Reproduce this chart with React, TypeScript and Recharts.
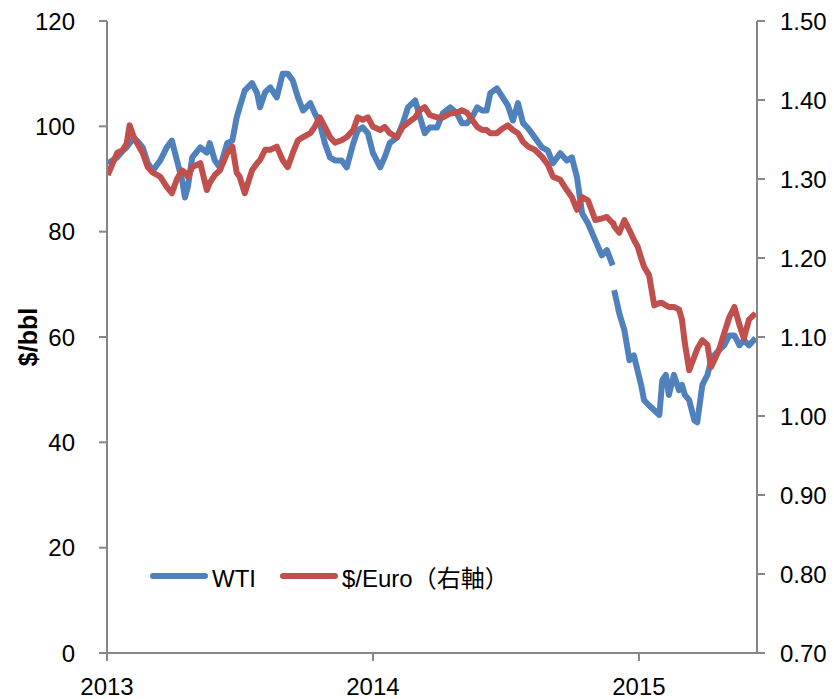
import { LineChart, Line, XAxis, YAxis, Legend } from 'recharts';

// sample dates (roughly weekly)
const dates = [
  '2013-01-02', '2013-01-08', '2013-01-15', '2013-01-23', '2013-01-28', '2013-02-01', '2013-02-06', '2013-02-11',
  '2013-02-19', '2013-02-26', '2013-03-05', '2013-03-15', '2013-03-24', '2013-03-31', '2013-04-07', '2013-04-14',
  '2013-04-18', '2013-04-22', '2013-04-28', '2013-05-09', '2013-05-18', '2013-05-22', '2013-05-29', '2013-06-05',
  '2013-06-15', '2013-06-22', '2013-06-28', '2013-07-02', '2013-07-09', '2013-07-19', '2013-07-26', '2013-07-30',
  '2013-08-06', '2013-08-13', '2013-08-22', '2013-08-30', '2013-09-06', '2013-09-13', '2013-09-20', '2013-09-27',
  '2013-10-07', '2013-10-13', '2013-10-20', '2013-10-27', '2013-11-03', '2013-11-10', '2013-11-19', '2013-11-26',
  '2013-12-05', '2013-12-11', '2013-12-18', '2013-12-25', '2014-01-01', '2014-01-11', '2014-01-17', '2014-01-24',
  '2014-02-03', '2014-02-11', '2014-02-18', '2014-02-28', '2014-03-06', '2014-03-13', '2014-03-20', '2014-03-30',
  '2014-04-07', '2014-04-17', '2014-04-26', '2014-05-03', '2014-05-10', '2014-05-17', '2014-05-24', '2014-05-31',
  '2014-06-06', '2014-06-11', '2014-06-20', '2014-06-28', '2014-07-05', '2014-07-12', '2014-07-19', '2014-07-26',
  '2014-08-02', '2014-08-11', '2014-08-21', '2014-08-29', '2014-09-05', '2014-09-15', '2014-09-24', '2014-10-01',
  '2014-10-08', '2014-10-15', '2014-10-23', '2014-11-02', '2014-11-11', '2014-11-18', '2014-11-26', '2014-11-27',
  '2014-11-28', '2014-12-05', '2014-12-12', '2014-12-19', '2014-12-25', '2014-12-30', '2015-01-04', '2015-01-08',
  '2015-01-15', '2015-01-22', '2015-01-29', '2015-02-02', '2015-02-07', '2015-02-11', '2015-02-18', '2015-02-25',
  '2015-03-01', '2015-03-05', '2015-03-11', '2015-03-18', '2015-03-22', '2015-03-29', '2015-04-05', '2015-04-10',
  '2015-04-14', '2015-04-21', '2015-04-28', '2015-05-05', '2015-05-12', '2015-05-19', '2015-05-25', '2015-06-01',
  '2015-06-10',
];

// WTI, $/bbl (null = missing day -> gap in line)
const wti = [
  93.0, 93.5, 94.1, 95.4, 96.0, 96.8, 97.5, 97.3,
  96.0, 93.0, 91.6, 93.5, 96.0, 97.3, 93.5, 89.8,
  86.5, 88.5, 94.1, 96.0, 95.0, 96.8, 93.5, 92.2,
  96.8, 97.3, 101.7, 103.6, 106.8, 108.2, 106.3, 103.6,
  106.5, 107.4, 105.5, 110.0, 110.0, 108.7, 105.5, 103.0,
  104.4, 102.5, 100.6, 96.8, 94.1, 93.5, 93.5, 92.2,
  96.8, 99.2, 99.8, 98.7, 94.9, 92.2, 94.1, 96.8,
  97.9, 100.6, 103.6, 104.9, 102.0, 98.7, 99.8, 99.8,
  102.5, 103.6, 102.5, 100.6, 100.6, 101.7, 103.6, 103.0,
  103.0, 106.3, 107.2, 105.5, 104.0, 101.1, 104.4, 100.6,
  99.6, 97.9, 96.0, 95.4, 93.0, 94.9, 93.5, 94.1,
  90.3, 83.5, 81.6, 78.4, 75.5, 76.5, 73.6, null,
  68.9, 64.5, 61.3, 55.6, 56.5, 53.7, 50.9, 48.0,
  47.0, 46.1, 45.2, 51.8, 52.8, 49.0, 52.8, 49.9,
  50.9, 49.0, 48.0, 44.2, 43.8, 50.9, 52.8, 55.6,
  56.5, 57.5, 58.4, 60.3, 60.3, 58.4, 59.4, 58.4,
  59.8,
];

// $/Euro (right axis)
const euro = [
  1.305, 1.318, 1.333, 1.337, 1.345, 1.368, 1.355, 1.346,
  1.333, 1.315, 1.308, 1.303, 1.290, 1.282, 1.300, 1.311,
  1.308, 1.303, 1.315, 1.320, 1.286, 1.295, 1.305, 1.311,
  1.333, 1.341, 1.308, 1.303, 1.282, 1.311, 1.320, 1.324,
  1.337, 1.337, 1.341, 1.324, 1.315, 1.333, 1.349, 1.353,
  1.358, 1.366, 1.378, 1.366, 1.353, 1.346, 1.349, 1.353,
  1.362, 1.378, 1.375, 1.378, 1.366, 1.362, 1.366, 1.358,
  1.353, 1.366, 1.371, 1.378, 1.387, 1.391, 1.381, 1.378,
  1.378, 1.383, 1.384, 1.387, 1.384, 1.375, 1.366, 1.362,
  1.362, 1.358, 1.358, 1.364, 1.368, 1.362, 1.358, 1.347,
  1.341, 1.337, 1.328, 1.318, 1.303, 1.299, 1.286, 1.277,
  1.261, 1.277, 1.273, 1.248, 1.250, 1.252, 1.244, 1.244,
  1.240, 1.232, 1.248, 1.235, 1.223, 1.215, 1.200, 1.189,
  1.178, 1.140, 1.143, 1.143, 1.140, 1.138, 1.138, 1.135,
  1.122, 1.092, 1.058, 1.075, 1.085, 1.096, 1.090, 1.062,
  1.070, 1.084, 1.105, 1.125, 1.138, 1.115, 1.098, 1.122,
  1.130,
];

const yearTicks = ['2013-01-01', '2014-01-01', '2015-01-01'];
const leftTicks = [0, 20, 40, 60, 80, 100, 120];
const rightTicks = [0.7, 0.8, 0.9, 1.0, 1.1, 1.2, 1.3, 1.4, 1.5];

const BLUE = '#4F81BD';
const RED = '#C0504D';
const AXIS = '#868686';
const FONT = '"Liberation Sans", Arial, "Noto Sans CJK JP", sans-serif';

const dayOf = (s: string) => {
  const [y, m, d] = s.split('-').map(Number);
  return (Date.UTC(y, m - 1, d) - Date.UTC(2013, 0, 1)) / 86400000;
};

const data = dates.map((d, i) => ({ day: dayOf(d), wti: wti[i], euro: euro[i] }));
const xTicks = yearTicks.map(dayOf);

const tickStyle = { fill: '#000', fontSize: 24, fontFamily: FONT };

function LegendBox() {
  const items = [
    { label: 'WTI', color: BLUE },
    { label: '$/Euro（右軸）', color: RED },
  ];
  return (
    <div style={{ display: 'flex', alignItems: 'center', fontFamily: FONT, fontSize: 24, color: '#000', whiteSpace: 'nowrap' }}>
      {items.map((it) => (
        <div key={it.label} style={{ display: 'flex', alignItems: 'center', marginRight: 24 }}>
          <svg width={58} height={10}>
            <line x1={3} y1={5} x2={55} y2={5} stroke={it.color} strokeWidth={6} strokeLinecap="round" />
          </svg>
          <span style={{ marginLeft: 4, marginTop: 6, lineHeight: '28px' }}>{it.label}</span>
        </div>
      ))}
    </div>
  );
}

export default function App() {
  return (
    <div style={{ position: 'absolute', left: 0, top: 0, background: '#fff' }}>
      <LineChart width={834} height={699} data={data} margin={{ top: 21, right: 0, left: 0, bottom: 0 }}>
        <XAxis
          dataKey="day"
          type="number"
          domain={[0, 892]}
          ticks={xTicks}
          tickFormatter={(v: number) => String(2013 + Math.round(v / 365.25))}
          height={46}
          stroke={AXIS}
          strokeWidth={2}
          tickSize={8}
          tickMargin={17}
          tick={tickStyle}
          allowDataOverflow
        />
        <YAxis
          yAxisId="left"
          domain={[0, 120]}
          ticks={leftTicks}
          width={107}
          stroke={AXIS}
          strokeWidth={2}
          tickSize={8}
          tickMargin={24}
          tick={tickStyle}
          label={{
            content: () => (
              <text
                x={37}
                y={337}
                transform="rotate(-90 37 337)"
                textAnchor="middle"
                fontSize={25}
                fontWeight="bold"
                fontFamily={FONT}
                fill="#000"
              >
                $/bbl
              </text>
            ),
          }}
        />
        <YAxis
          yAxisId="right"
          orientation="right"
          domain={[0.7, 1.5]}
          ticks={rightTicks}
          width={77}
          stroke={AXIS}
          strokeWidth={2}
          tickSize={8}
          tickMargin={15}
          tick={tickStyle}
          tickFormatter={(v: number) => v.toFixed(2)}
        />
        <Legend
          layout="horizontal"
          verticalAlign="middle"
          align="center"
          content={() => <LegendBox />}
          wrapperStyle={{ left: 150, top: 559, width: 'auto' }}
        />
        <Line
          yAxisId="left"
          dataKey="wti"
          type="linear"
          stroke={BLUE}
          strokeWidth={6}
          strokeLinejoin="round"
          dot={false}
          isAnimationActive={false}
        />
        <Line
          yAxisId="right"
          dataKey="euro"
          type="linear"
          stroke={RED}
          strokeWidth={6}
          strokeLinejoin="round"
          dot={false}
          isAnimationActive={false}
        />
      </LineChart>
    </div>
  );
}
